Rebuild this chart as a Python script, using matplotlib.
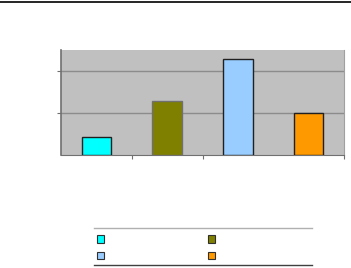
import matplotlib.pyplot as plt
from matplotlib.lines import Line2D
from matplotlib.patches import Patch

# datos (sin etiquetas visibles)
categorias = ['', '', '', '']
valores = [4.3, 12.9, 22.9, 10.0]
colores = ['#00FFFF', '#808000', '#99CCFF', '#FF9900']
bordes = ['#202020', '#707070', '#202020', '#202020']

fig = plt.figure(figsize=(3.51, 2.68), dpi=100)
ax = fig.add_axes([61 / 351, 1 - 155 / 268, 283 / 351, 105 / 268])
ax.set_facecolor('#C0C0C0')

x = range(len(valores))
ax.bar(x, valores, width=0.42, color=colores, edgecolor=bordes, linewidth=1, zorder=3)

ax.set_xlim(-0.5, len(valores) - 0.5)
ax.set_ylim(0, 25.1)
ax.set_yticks([10, 20])
ax.yaxis.grid(True, color='#8C8C8C', linewidth=1, zorder=1)
ax.set_xticks([0.5, 1.5, 3.5])
ax.tick_params(axis='both', labelleft=False, labelbottom=False, length=3,
               color='#707070', direction='out')
for s in ['top']:
    ax.spines[s].set_visible(False)
ax.spines['right'].set_color('#A0A0A0')
ax.spines['left'].set_color('#707070')
ax.spines['left'].set_linewidth(1.2)
ax.spines['bottom'].set_color('#707070')

# linea superior de la pagina
fig.add_artist(Line2D([0, 1], [1 - 1.5 / 268] * 2, color='black', linewidth=1.2))

# leyenda (orden por filas: matplotlib llena por columnas)
orden = [0, 2, 1, 3]
handles = [Patch(facecolor=colores[i], edgecolor='#303030', linewidth=0.8) for i in orden]
etiquetas = [categorias[i] for i in orden]
fig.legend(handles, etiquetas, ncol=2, frameon=False, fontsize=8,
           handlelength=0.63, handleheight=0.63, handletextpad=0,
           columnspacing=9.4, labelspacing=0.6,
           loc='upper left', bbox_to_anchor=(87 / 351, 1 - 225 / 268))
fig.add_artist(Line2D([94 / 351, 312 / 351], [1 - 228 / 268] * 2, color='#B0B0B0', linewidth=1))
fig.add_artist(Line2D([94 / 351, 312 / 351], [1 - 264.5 / 268] * 2, color='#404040', linewidth=1))

fig.savefig('out.png', dpi=100)
